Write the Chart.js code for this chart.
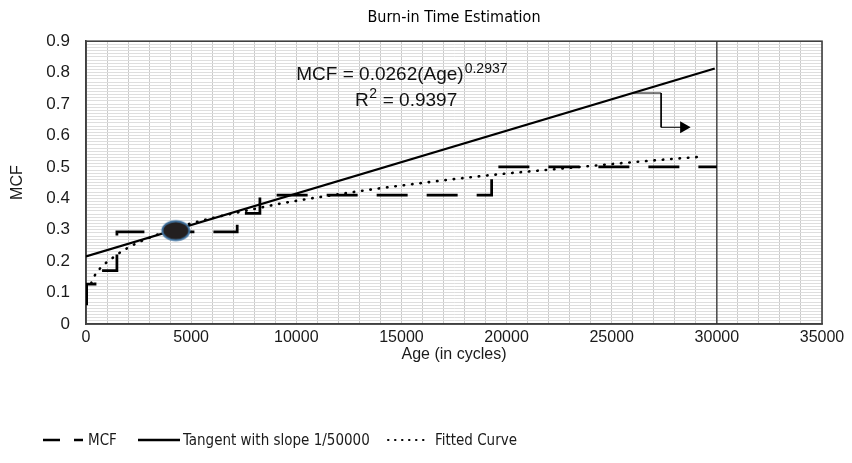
<!DOCTYPE html>
<html>
<head>
<meta charset="utf-8">
<script src="https://cdn.jsdelivr.net/npm/chart.js@4.4.1/dist/chart.umd.min.js"></script>
<style>
html,body{margin:0;padding:0;background:#ffffff;}
canvas{display:block;}
</style>
</head>
<body>
<canvas id="c" width="852" height="463"></canvas>
<script>
// ---------- data ----------
const chartTitle = 'Burn-in Time Estimation';
const xAxisTitle = 'Age (in cycles)';
const yAxisTitle = 'MCF';
const xTickLabels = ['0', '5000', '10000', '15000', '20000', '25000', '30000', '35000'];
const yTickLabels = ['0', '0.1', '0.2', '0.3', '0.4', '0.5', '0.6', '0.7', '0.8', '0.9'];
const seriesNames = ['MCF', 'Tangent with slope 1/50000', 'Fitted Curve'];

// MCF step function (value after each step)
const mcfAge   = [30, 30, 430, 1470, 7190, 8270, 19290, 30000];
const mcfValue = [0.06, 0.127, 0.17, 0.293, 0.352, 0.41, 0.50, 0.50];

// tangent line
const tangentAge   = [0, 29900];
const tangentValue = [0.215, 0.813];

// fitted power curve
const fitAge   = [250, 350, 500, 800, 1200, 1500, 2000, 2500, 3000, 4000, 5000, 6000, 7000, 8000, 9000, 10000, 12000, 14000, 16000, 18000, 20000, 22000, 24000, 26000, 28000, 29400];
const fitValue = [0.13, 0.146, 0.163, 0.186, 0.207, 0.222, 0.243, 0.26, 0.274, 0.30, 0.32, 0.337, 0.352, 0.366, 0.38, 0.392, 0.413, 0.432, 0.449, 0.465, 0.479, 0.491, 0.503, 0.515, 0.526, 0.533];

// tangent point marker
const markerAge   = [4270];
const markerValue = [0.297];

// arrow connector
const arrowAge   = [26000, 27350, 27350, 28420];
const arrowValue = [0.735, 0.735, 0.626, 0.626];

// vertical reference line at 30000 cycles
const refLineAge   = [30000, 30000];
const refLineValue = [0, 0.9];

const equationMain = 'MCF = 0.0262(Age)';
const equationExp  = '0.2937';
const r2Main = 'R';
const r2Exp  = '2';
const r2Rest = ' = 0.9397';

// ---------- styling ----------
const baseFam = "'Liberation Sans', Arial, sans-serif";
const narrowFam = "'Liberation Sans Narrow', 'DejaVu Sans Condensed', 'Liberation Sans', sans-serif";
const textColor = '#1a1a1a';
const frameColor = '#404040';

Chart.defaults.font.family = baseFam;
Chart.defaults.color = textColor;

const pts = (xs, ys) => xs.map((x, i) => ({x: x, y: ys[i]}));

// ellipse marker image
const mk = document.createElement('canvas');
mk.width = 32; mk.height = 24;
(function () {
  const m = mk.getContext('2d');
  m.beginPath();
  m.ellipse(16, 12, 13.5, 9.5, 0, 0, Math.PI * 2);
  m.fillStyle = '#231f20';
  m.fill();
  m.lineWidth = 2;
  m.strokeStyle = '#41729f';
  m.stroke();
})();

const annotationPlugin = {
  id: 'annot',
  afterLayout(chart) {
    // centre the title over the plot area
    const t = chart.titleBlock, a = chart.chartArea;
    if (t) { t.left = a.left; t.right = a.right; t.width = a.right - a.left; }
  },
  beforeDatasetsDraw(chart) {
    const {ctx, chartArea: a} = chart;
    ctx.save();
    ctx.strokeStyle = frameColor;
    ctx.lineWidth = 1.6;
    ctx.strokeRect(a.left, a.top, a.right - a.left, a.bottom - a.top);
    ctx.restore();
  },
  afterDatasetsDraw(chart) {
    const {ctx, scales: {x, y}} = chart;
    ctx.save();
    ctx.fillStyle = '#111';
    ctx.textBaseline = 'alphabetic';
    ctx.textAlign = 'left';
    // equation
    let px = x.getPixelForValue(10000), py = y.getPixelForValue(0.778);
    ctx.font = '19px ' + baseFam;
    ctx.fillText(equationMain, px, py);
    let w = ctx.measureText(equationMain).width;
    ctx.font = '14px ' + baseFam;
    ctx.fillText(equationExp, px + w + 1, py - 7);
    // R^2
    px = x.getPixelForValue(12790); py = y.getPixelForValue(0.693);
    ctx.font = '19px ' + baseFam;
    ctx.fillText(r2Main, px, py);
    w = ctx.measureText(r2Main).width;
    ctx.font = '14px ' + baseFam;
    ctx.fillText(r2Exp, px + w + 0.5, py - 8);
    const w2 = ctx.measureText(r2Exp).width;
    ctx.font = '19px ' + baseFam;
    ctx.fillText(r2Rest, px + w + w2 + 1, py);
    ctx.restore();
  },
  afterDraw(chart) {
    const ctx = chart.ctx;
    const ds = chart.data.datasets;
    const ly = 440;
    const items = [
      {i: 0, x0: 43, x1: 83, tx: 88, dash: [17, 14], cap: 'butt'},
      {i: 1, x0: 138, x1: 180, tx: 183, dash: [], cap: 'butt'},
      {i: 2, x0: 388, x1: 430, tx: 435, dash: [0.5, 6.5], cap: 'round'}
    ];
    ctx.save();
    for (const it of items) {
      const d = ds[it.i];
      ctx.beginPath();
      ctx.setLineDash(it.dash);
      ctx.lineCap = it.cap;
      ctx.lineWidth = it.i === 2 ? 2 : 2.5;
      ctx.strokeStyle = '#000';
      ctx.moveTo(it.x0, ly);
      ctx.lineTo(it.x1, ly);
      ctx.stroke();
      ctx.setLineDash([]);
      ctx.font = '15px ' + narrowFam;
      ctx.fillStyle = textColor;
      ctx.textBaseline = 'middle';
      ctx.textAlign = 'left';
      ctx.fillText(d.label, it.tx, ly + 1);
    }
    ctx.restore();
  }
};

new Chart(document.getElementById('c'), {
  type: 'scatter',
  data: {
    datasets: [
      {label: seriesNames[0], data: pts(mcfAge, mcfValue), showLine: true, stepped: 'before',
       borderColor: '#000', borderWidth: 2.75, borderDash: [31, 19], borderCapStyle: 'butt',
       pointRadius: 0, order: 3},
      {label: seriesNames[1], data: pts(tangentAge, tangentValue), showLine: true,
       borderColor: '#000', borderWidth: 2.25, pointRadius: 0, order: 2},
      {label: seriesNames[2], data: pts(fitAge, fitValue), showLine: true,
       borderColor: '#000', borderWidth: 2.6, borderDash: [0.5, 7.9], borderCapStyle: 'round',
       cubicInterpolationMode: 'monotone', pointRadius: 0, order: 4},
      {label: 'marker', data: pts(markerAge, markerValue), showLine: false,
       pointStyle: mk, pointRadius: 14, order: 0},
      {label: 'arrow', data: pts(arrowAge, arrowValue), showLine: true,
       borderColor: '#000', borderWidth: 1, pointRadius: [0, 0, 0, 7], pointStyle: 'triangle',
       pointRotation: 90, pointBackgroundColor: '#000', pointBorderColor: '#000', pointBorderWidth: 0, order: 1},
      {label: 'ref', data: pts(refLineAge, refLineValue), showLine: true,
       borderColor: '#303030', borderWidth: 1.3, pointRadius: 0, order: 5}
    ]
  },
  options: {
    responsive: false,
    animation: false,
    events: [],
    devicePixelRatio: 1,
    layout: {padding: {left: 0, right: 30, top: 0, bottom: 95}},
    plugins: {
      legend: {display: false},
      tooltip: {enabled: false},
      title: {
        display: true, text: chartTitle, color: '#000',
        font: {family: narrowFam, size: 16, weight: 'normal'},
        padding: {top: 8, bottom: 14}
      }
    },
    scales: {
      x: {
        type: 'linear', min: 0, max: 35000,
        afterFit: s => { s.height = 44; },
        ticks: {
          stepSize: 1000, autoSkip: false, maxRotation: 0, minRotation: 0, maxTicksLimit: 1000,
          padding: 4, color: textColor, font: {size: 16},
          callback: v => (v % 5000 === 0 ? xTickLabels[v / 5000] : '')
        },
        grid: {drawTicks: false, color: '#cacaca', lineWidth: 1},
        border: {display: true, color: frameColor, width: 1.6},
        title: {display: true, text: xAxisTitle, color: textColor, font: {size: 16}, padding: {top: 0, bottom: 4}}
      },
      y: {
        min: 0, max: 0.9,
        afterFit: s => { s.width = 86; },
        ticks: {
          stepSize: 0.01, autoSkip: false, maxTicksLimit: 1000, padding: 16,
          color: textColor, font: {size: 17},
          callback: v => { const k = Math.round(v * 100); return k % 10 === 0 ? yTickLabels[k / 10] : ''; }
        },
        grid: {drawTicks: false, color: '#dedede', lineWidth: 1},
        border: {display: true, color: frameColor, width: 1.6},
        title: {display: true, text: yAxisTitle, color: textColor, font: {size: 16}, padding: {top: 8, bottom: 0}}
      }
    }
  },
  plugins: [annotationPlugin]
});
</script>
</body>
</html>
